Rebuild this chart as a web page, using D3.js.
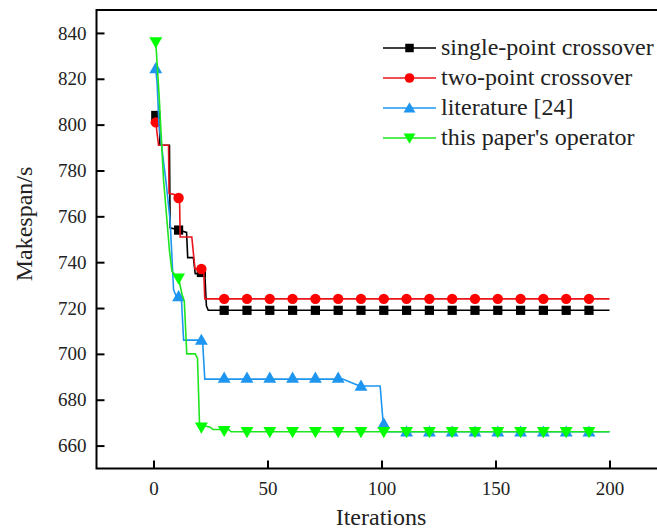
<!DOCTYPE html>
<html>
<head>
<meta charset="utf-8">
<script src="https://cdn.jsdelivr.net/npm/d3@7"></script>
<style>
  html, body { margin: 0; padding: 0; background: #fff; }
  svg { display: block; }
</style>
</head>
<body>
<svg id="chart" width="657" height="530"></svg>
<script>
// ---------- data ----------
const iterTicks = [0, 50, 100, 150, 200];
const makespanTicks = [660, 680, 700, 720, 740, 760, 780, 800, 820, 840];
const seriesNames = ["single-point crossover", "two-point crossover", "literature [24]", "this paper's operator"];

// line breakpoints (iteration, makespan)
const singleIter = [1, 2.6, 2.8, 7.0, 7.3, 11, 14.5, 15.0, 17.5, 18.3, 22.5, 23.2, 24, 200];
const singleVal  = [804, 804, 791, 791, 755, 754, 753, 742, 742, 735, 735, 721, 719, 719];

const twoIter = [1, 2.2, 6.6, 6.8, 11.4, 11.7, 16.8, 18.2, 22, 22.5, 200];
const twoVal  = [801, 791, 791, 770, 769, 751, 751, 737, 737, 724, 724];

const litIter = [1, 1.6, 2.4, 4, 5.5, 7.3, 8.8, 10, 12.3, 13.2, 21.5, 22.5, 83, 88, 90.5, 99.4, 100.8, 102, 200];
const litVal  = [824, 818, 800, 787, 775, 758, 728, 725, 723, 706, 706, 689, 689, 687, 686, 686, 669, 666, 666];

const oursIter = [1, 2.5, 4.4, 6, 7, 8.1, 11, 12.5, 13.5, 14.6, 18.3, 19.3, 20.2, 25, 26, 33, 34, 200];
const oursVal  = [836, 812, 776, 757, 745, 736, 733, 726, 723, 700, 700, 698, 669, 668, 667, 667, 666, 666];

// markers every 10 iterations
const markerIters = [1, 11, 21, 31, 41, 51, 61, 71, 81, 91, 101, 111, 121, 131, 141, 151, 161, 171, 181, 191];
const singleMarks = [804, 754, 735.5, 719, 719, 719, 719, 719, 719, 719, 719, 719, 719, 719, 719, 719, 719, 719, 719, 719];
const twoMarks    = [801, 768, 737, 724, 724, 724, 724, 724, 724, 724, 724, 724, 724, 724, 724, 724, 724, 724, 724, 724];
const litMarks    = [824.5, 725, 706, 689.5, 689.5, 689.5, 689.5, 689.5, 689.5, 686, 669.5, 666, 666, 666, 666, 666, 666, 666, 666, 666];
const oursMarks   = [836, 733, 668, 666.5, 666, 666, 666, 666, 666, 666, 666, 666, 666, 666, 666, 666, 666, 666, 666, 666];

// ---------- layout ----------
const svg = d3.select("#chart");
const mLeft = 96.5, mRight = 666.5, mTop = 10, mBottom = 468.5;
const serif = '"Liberation Serif", "Times New Roman", serif';

const x = d3.scaleLinear().domain([-25, 225]).range([mLeft, mRight]);
const y = d3.scaleLinear().domain([650, 850]).range([mBottom, mTop]);

const series = [
  { name: seriesNames[0], iters: singleIter, vals: singleVal, marks: singleMarks, line: "#000000", fill: "#000000", sym: d3.symbolSquare, size: 85, rot: 0 },
  { name: seriesNames[1], iters: twoIter, vals: twoVal, marks: twoMarks, line: "#e8141c", fill: "#ff0000", sym: d3.symbolCircle, size: 85, rot: 0 },
  { name: seriesNames[2], iters: litIter, vals: litVal, marks: litMarks, line: "#1e96f0", fill: "#1e96f0", sym: d3.symbolTriangle, size: 72, rot: 0 },
  { name: seriesNames[3], iters: oursIter, vals: oursVal, marks: oursMarks, line: "#1ee61e", fill: "#00ff00", sym: d3.symbolTriangle, size: 72, rot: 180 }
];

const line = d3.line().x(d => x(d[0])).y(d => y(d[1]));

const plot = svg.append("g");
series.forEach(s => {
  const pts = s.iters.map((it, i) => [it, s.vals[i]]);
  plot.append("path")
    .attr("d", line(pts))
    .attr("fill", "none")
    .attr("stroke", s.line)
    .attr("stroke-width", 1.6);
  const sym = d3.symbol().type(s.sym).size(s.size);
  plot.selectAll(null)
    .data(markerIters.map((it, i) => [it, s.marks[i]]))
    .enter().append("path")
    .attr("d", sym)
    .attr("transform", d => `translate(${x(d[0])},${y(d[1]) + (s.sym === d3.symbolTriangle ? (s.rot ? -1 : 1) : 0)}) rotate(${s.rot})`)
    .attr("fill", s.fill);
});

// ---------- axes / frame ----------
svg.append("rect")
  .attr("x", mLeft).attr("y", mTop)
  .attr("width", mRight - mLeft).attr("height", mBottom - mTop)
  .attr("fill", "none").attr("stroke", "#000").attr("stroke-width", 2);

const xAxis = d3.axisBottom(x).tickValues(iterTicks).tickSize(-8).tickPadding(13).tickFormat(d3.format("d"));
const gx = svg.append("g").attr("transform", `translate(0,${mBottom})`).call(xAxis)
  .attr("font-family", serif).attr("font-size", 19);
gx.select(".domain").remove();
gx.selectAll(".tick line").attr("stroke", "#000").attr("stroke-width", 2);
gx.selectAll(".tick text").attr("fill", "#222");

const yAxis = d3.axisLeft(y).tickValues(makespanTicks).tickSize(-8).tickPadding(10).tickFormat(d3.format("d"));
const gy = svg.append("g").attr("transform", `translate(${mLeft},0)`).call(yAxis)
  .attr("font-family", serif).attr("font-size", 19);
gy.select(".domain").remove();
gy.selectAll(".tick line").attr("stroke", "#000").attr("stroke-width", 2);
gy.selectAll(".tick text").attr("fill", "#222");

// axis titles
svg.append("text")
  .attr("x", 381).attr("y", 525)
  .attr("text-anchor", "middle").attr("font-family", serif).attr("font-size", 24).attr("fill", "#222")
  .text("Iterations");
svg.append("text")
  .attr("transform", "translate(32,224) rotate(-90)")
  .attr("text-anchor", "middle").attr("font-family", serif).attr("font-size", 24).attr("fill", "#222")
  .text("Makespan/s");

// ---------- legend ----------
const legend = svg.append("g");
series.forEach((s, i) => {
  const ly = 48 + i * 30;
  legend.append("line")
    .attr("x1", 383).attr("x2", 436).attr("y1", ly).attr("y2", ly)
    .attr("stroke", s.line).attr("stroke-width", 1.6);
  legend.append("path")
    .attr("d", d3.symbol().type(s.sym).size(s.size * 0.85))
    .attr("transform", `translate(409.5,${ly + (s.sym === d3.symbolTriangle ? (s.rot ? -1 : 1) : 0)}) rotate(${s.rot})`)
    .attr("fill", s.fill);
  legend.append("text")
    .attr("x", 441).attr("y", ly + 7)
    .attr("font-family", serif).attr("font-size", 24).attr("fill", "#222")
    .text(s.name);
});
</script>
</body>
</html>
